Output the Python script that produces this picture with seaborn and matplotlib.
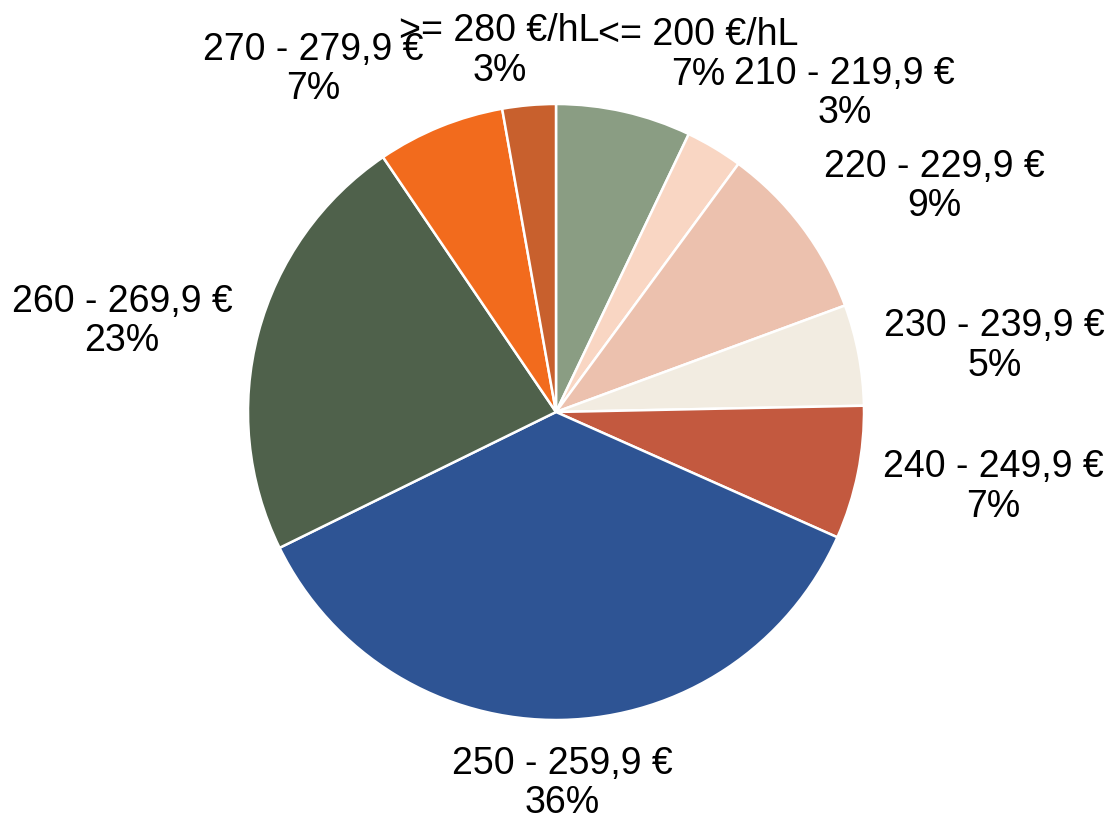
import numpy as np
import matplotlib
matplotlib.use("Agg")
import matplotlib.pyplot as plt
import matplotlib.transforms as mtransforms
import seaborn as sns

# price classes, clockwise from the top
categories = ["<= 200 €/hL", "210 - 219,9 €", "220 - 229,9 €", "230 - 239,9 €",
              "240 - 249,9 €", "250 - 259,9 €", "260 - 269,9 €", "270 - 279,9 €",
              ">= 280 €/hL"]
shares = [7.1, 3.0, 9.3, 5.3, 7.0, 36.1, 22.8, 6.7, 2.8]
colors = ["#8A9D83", "#F9D6C3", "#ECC1AE", "#F2ECE1", "#C3593F",
          "#2E5494", "#4F614B", "#F26B1D", "#C8602D"]

# small label nudges in pixels (dx right, dy down), same order as categories
nudges = [(-33, 10), (4, 9), (-3, 15), (-5, -4), (-5, 7),
          (0, -6), (4, -5), (-5, 8), (-27, 13)]

sns.set_theme(style="white")
plt.rcParams["font.family"] = ["Liberation Sans", "DejaVu Sans"]

W, H = 1113, 820
fig = plt.figure(figsize=(W / 100, H / 100), dpi=100)
ax = fig.add_axes([0, 0, 1, 1])

total = sum(shares)
labels = [f"{c}\n{round(v / total * 100):.0f}%" for c, v in zip(categories, shares)]

wedges, texts = ax.pie(shares, colors=colors, startangle=90, counterclock=False,
                       labels=labels, labeldistance=1.1,
                       wedgeprops=dict(edgecolor="white", linewidth=1.8),
                       textprops=dict(fontsize=27, color="black"))

for w, t, (dx, dy) in zip(wedges, texts, nudges):
    mid = np.deg2rad((w.theta1 + w.theta2) / 2)
    s, c = np.cos(mid), np.sin(mid)  # s: horizontal, c: vertical
    if abs(s) < 0.1:
        t.set_ha("center")
    elif s > 0:
        t.set_ha("left")
    else:
        t.set_ha("right")
    if c > 0.5:
        t.set_va("bottom")
    elif c < -0.5:
        t.set_va("top")
    else:
        t.set_va("center")
    t.set_multialignment("center")
    t.set_linespacing(1.12)
    t.set_transform(ax.transData + mtransforms.ScaledTranslation(
        dx / 100, -dy / 100, fig.dpi_scale_trans))

# pie radius ~308 px, centre at (556, 413) px from top-left
r = 308
cx, cy = 556, 413
ax.set_xlim(-cx / r, (W - cx) / r)
ax.set_ylim(-(H - cy) / r, cy / r)
ax.set_aspect("auto")
ax.axis("off")

fig.savefig("out.png", dpi=100, facecolor="white")
